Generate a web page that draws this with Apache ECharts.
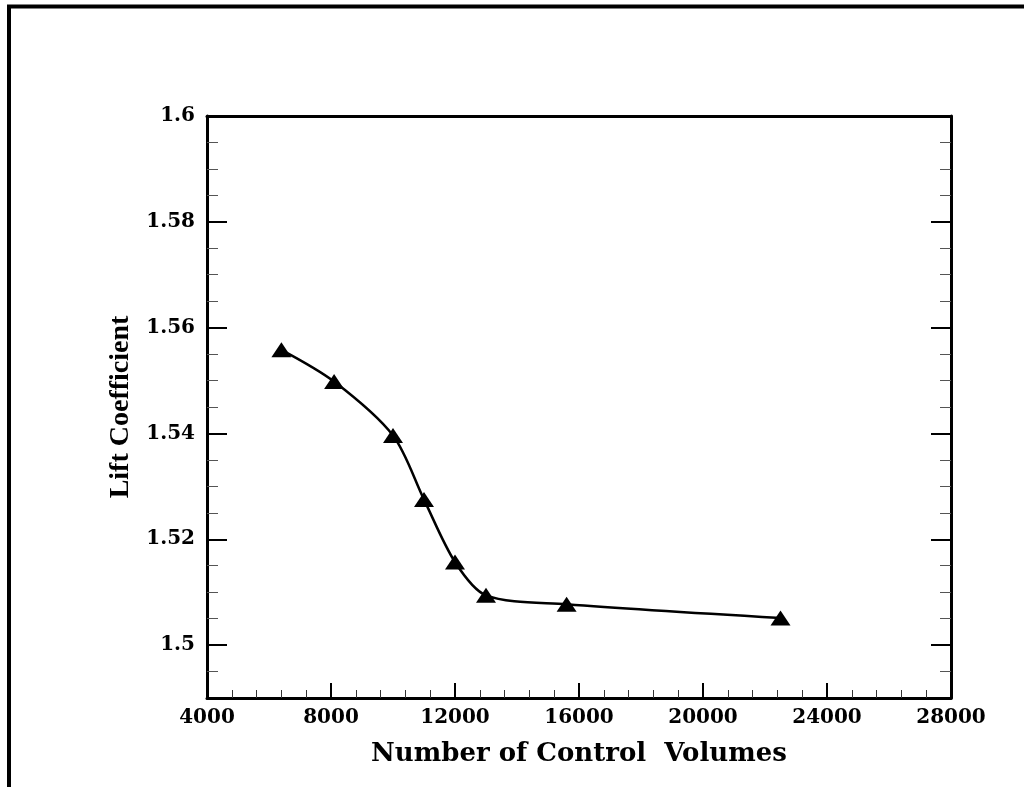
<!DOCTYPE html>
<html>
<head>
<meta charset="utf-8">
<script src="https://cdn.jsdelivr.net/npm/echarts@6/dist/echarts.min.js"></script>
<style>
html,body{margin:0;padding:0;background:#fff;}
#c{width:1024px;height:787px;}
</style>
</head>
<body>
<div id="c"></div>
<script>
// Data
const controlVolumes = [6400, 8100, 10000, 11000, 12000, 13000, 15600, 22500];
const liftCoefficient = [1.5558, 1.5498, 1.5396, 1.5275, 1.5157, 1.5094, 1.5077, 1.5051];
const yMajorTicks = [1.5, 1.52, 1.54, 1.56, 1.58, 1.6];
const yMinorTicks = [1.495, 1.505, 1.51, 1.515, 1.525, 1.53, 1.535, 1.545, 1.55, 1.555,
                     1.565, 1.57, 1.575, 1.585, 1.59, 1.595];
const xTitle = 'Number of Control  Volumes';
const yTitle = 'Lift Coefficient';

const chart = echarts.init(document.getElementById('c'), null, {renderer: 'canvas'});
const labelFont = {fontFamily: 'DejaVu Serif', fontWeight: 'bold', fontSize: 20, color: '#000'};
const fmt = v => String(+Number(v).toFixed(3));

const yBase = {type: 'value', min: 1.49, max: 1.6, splitLine: {show: false}};

chart.setOption({
  backgroundColor: '#fff',
  animation: false,
  grid: {left: 207, top: 116, right: 73, bottom: 89, containLabel: false},
  graphic: [{
    type: 'rect', shape: {x: 9, y: 6.5, width: 1200, height: 1000},
    style: {fill: 'none', stroke: '#000', lineWidth: 4}, silent: true
  }],
  xAxis: [{
    type: 'value', position: 'bottom', min: 4000, max: 28000, interval: 4000,
    axisLine: {show: true, lineStyle: {color: '#000', width: 3}},
    axisTick: {show: true, inside: true, length: 15, lineStyle: {color: '#000', width: 2}},
    minorTick: {show: true, splitNumber: 5, length: 8, lineStyle: {color: '#333', width: 1}},
    axisLabel: Object.assign({margin: 10, showMinLabel: true, showMaxLabel: true, formatter: v => String(v)}, labelFont),
    splitLine: {show: false},
    name: xTitle, nameLocation: 'middle', nameGap: 43,
    nameTextStyle: {fontFamily: 'DejaVu Serif', fontWeight: 'bold', fontSize: 26, color: '#000'}
  }, {
    type: 'value', position: 'top', min: 4000, max: 28000, interval: 4000,
    axisLine: {show: true, lineStyle: {color: '#000', width: 3}},
    axisTick: {show: false}, axisLabel: {show: false}, splitLine: {show: false}
  }],
  yAxis: [
    Object.assign({}, yBase, {
      position: 'left',
      axisLine: {show: true, lineStyle: {color: '#000', width: 3}},
      axisTick: {show: true, inside: true, length: 20, customValues: yMajorTicks, lineStyle: {color: '#000', width: 2}},
      axisLabel: Object.assign({margin: 12, customValues: yMajorTicks, formatter: fmt}, labelFont),
      name: yTitle, nameLocation: 'middle', nameGap: 72,
      nameTextStyle: {fontFamily: 'Liberation Serif', fontWeight: 'bold', fontSize: 28, color: '#000'}
    }),
    Object.assign({}, yBase, {
      position: 'left',
      axisLine: {show: false},
      axisTick: {show: true, inside: true, length: 11, customValues: yMinorTicks, lineStyle: {color: '#555', width: 1}},
      axisLabel: {show: false}
    }),
    Object.assign({}, yBase, {
      position: 'right',
      axisLine: {show: true, lineStyle: {color: '#000', width: 3}},
      axisTick: {show: true, inside: true, length: 20, customValues: yMajorTicks, lineStyle: {color: '#000', width: 2}},
      axisLabel: {show: false}
    }),
    Object.assign({}, yBase, {
      position: 'right',
      axisLine: {show: false},
      axisTick: {show: true, inside: true, length: 11, customValues: yMinorTicks, lineStyle: {color: '#555', width: 1}},
      axisLabel: {show: false}
    })
  ],
  series: [{
    type: 'line',
    xAxisIndex: 0, yAxisIndex: 0,
    data: controlVolumes.map((x, i) => [x, liftCoefficient[i]]),
    smooth: 0.3,
    symbol: 'triangle', symbolSize: [20, 15],
    itemStyle: {color: '#000'},
    lineStyle: {color: '#000', width: 2.5},
    z: 5
  }]
});
</script>
</body>
</html>
